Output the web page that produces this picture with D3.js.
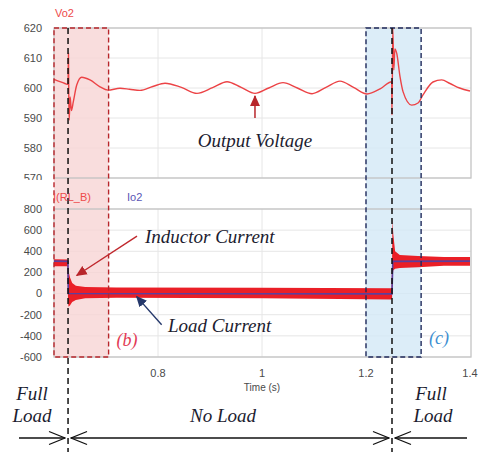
<!DOCTYPE html>
<html>
<head>
<meta charset="utf-8">
<script src="https://cdn.jsdelivr.net/npm/d3@7"></script>
<style>
  body { margin: 0; background: #fff; }
  svg { display: block; }
</style>
</head>
<body>
<div id="chart"></div>
<script>
/* Data. */
const voltTime = [0.600, 0.610, 0.621, 0.627, 0.6278, 0.6285, 0.6292, 0.631, 0.6335, 0.6371, 0.6437, 0.6533, 0.6692, 0.6885, 0.7038, 0.7269, 0.745, 0.7654, 0.79, 0.8135, 0.845, 0.875, 0.905, 0.9327, 0.96, 0.9865, 1.013, 1.0404, 1.068, 1.0962, 1.123, 1.15, 1.176, 1.2019, 1.228, 1.2494, 1.2500, 1.2515, 1.2535, 1.2555, 1.259, 1.2654, 1.2712, 1.2879, 1.300, 1.3096, 1.3288, 1.3456, 1.3615, 1.38, 1.4]
const voltValue = [602.9, 602.2, 601.5, 601.2, 611.5, 596, 589.3, 597, 592.5, 595.4, 601, 603.6, 602.7, 600.4, 599.3, 599.9, 599.6, 599.2, 600.5, 601.6, 600.2, 598.2, 600.1, 602.1, 600.2, 598.2, 600, 601.8, 600, 598.1, 600.2, 602.3, 600.2, 598, 599.8, 602.1, 591, 620, 606, 613, 611.6, 603.8, 598.8, 594.3, 595, 597.7, 602, 602.7, 601.5, 600, 599]

/* Inductor current: ripple band, upper and lower edge. */
const indTime = [0.600, 0.626, 0.627, 0.628, 0.631, 0.635, 0.642, 0.66, 0.72, 1.0, 1.249, 1.2502, 1.2508, 1.2525, 1.256, 1.265, 1.30, 1.35, 1.4]
const indUpper = [325, 322, 300, 210, 150, 100, 75, 62, 58, 55, 50, 300, 711, 560, 400, 365, 355, 345, 345]
const indLower = [258, 258, -80, -125, -110, -80, -60, -45, -40, -45, -55, -40, 150, 220, 235, 242, 250, 262, 262]

/* Load current. */
const loadTime = [0.600, 0.6268, 0.6275, 1.250, 1.2515, 1.4]
const loadValue = [307, 305, 0, -3, 305, 307]

const voltTicks = [570, 580, 590, 600, 610, 620]
const currTicks = [-600, -400, -200, 0, 200, 400, 600, 800]
const timeTicks = [0.8, 1, 1.2, 1.4]
const stepTimes = [0.627, 1.25]
const windowB = [0.6, 0.705]
const windowC = [1.2, 1.306]

/* Svg. */
const width = 484
const height = 452
const svg = d3.select("#chart")
  .append("svg")
  .attr("width", width)
  .attr("height", height)

/* Scales. */
const x = d3.scaleLinear().domain([0.6, 1.4]).range([54, 470])
const yV = d3.scaleLinear().domain([570, 620]).range([178, 28])
const yI = d3.scaleLinear().domain([-600, 800]).range([357, 209])
const left = 54
const right = 471

const defs = svg.append("defs")
defs.append("clipPath").attr("id", "topclip")
  .append("rect").attr("x", 0).attr("y", 0).attr("width", width).attr("height", 180)

/* Filled arrow heads. */
const heads = [["head-red", "#b8262b"], ["head-navy", "#25386b"]]
heads.forEach(([id, col]) => {
  defs.append("marker")
    .attr("id", id)
    .attr("viewBox", "0 -5 10 10")
    .attr("refX", 9).attr("refY", 0)
    .attr("markerWidth", 11).attr("markerHeight", 11)
    .attr("markerUnits", "userSpaceOnUse")
    .attr("orient", "auto-start-reverse")
    .append("path")
    .attr("d", "M0,-4.5L10,0L0,4.5Z")
    .attr("fill", col)
})
/* Open chevron heads. */
defs.append("marker")
  .attr("id", "chev")
  .attr("viewBox", "-1 -8 18 16")
  .attr("refX", 16).attr("refY", 0)
  .attr("markerWidth", 18).attr("markerHeight", 16)
  .attr("markerUnits", "userSpaceOnUse")
  .attr("orient", "auto-start-reverse")
  .append("path")
  .attr("d", "M0,-6.5L16,0L0,6.5")
  .attr("fill", "none")
  .attr("stroke", "#111")
  .attr("stroke-width", 1.3)

/* Gridlines. */
const grid = svg.append("g").attr("stroke", "#e6e6e6").attr("stroke-width", 1)
grid.selectAll(".gv").data(voltTicks).enter().append("line")
  .attr("x1", left).attr("x2", right)
  .attr("y1", d => yV(d)).attr("y2", d => yV(d))
grid.selectAll(".gi").data(currTicks).enter().append("line")
  .attr("x1", left).attr("x2", right)
  .attr("y1", d => yI(d)).attr("y2", d => yI(d))
grid.selectAll(".gt").data(timeTicks.slice(0, 3)).enter().append("g")
  .each(function (d) {
    d3.select(this).append("line")
      .attr("x1", x(d)).attr("x2", x(d)).attr("y1", yV(620)).attr("y2", yV(570))
    d3.select(this).append("line")
      .attr("x1", x(d)).attr("x2", x(d)).attr("y1", yI(800)).attr("y2", yI(-600))
  })

/* Window fills. */
svg.append("rect")
  .attr("x", x(windowB[0])).attr("y", yV(620))
  .attr("width", x(windowB[1]) - x(windowB[0])).attr("height", yI(-600) - yV(620))
  .attr("fill", "#f8d4d4").attr("opacity", 0.8)
svg.append("rect")
  .attr("x", x(windowC[0])).attr("y", yV(620))
  .attr("width", x(windowC[1]) - x(windowC[0])).attr("height", yI(-600) - yV(620))
  .attr("fill", "#d3e8f6").attr("opacity", 0.8)

/* Frames. */
svg.append("rect").attr("x", left).attr("y", yV(620)).attr("width", right - left).attr("height", yV(570) - yV(620))
  .attr("fill", "none").attr("stroke", "#c4c4c4").attr("stroke-width", 1.3)
svg.append("rect").attr("x", left).attr("y", yI(800)).attr("width", right - left).attr("height", yI(-600) - yI(800))
  .attr("fill", "none").attr("stroke", "#c4c4c4").attr("stroke-width", 1.3)

/* Output voltage. */
const voltData = voltTime.map((t, i) => [t, voltValue[i]])
svg.append("path")
  .datum(voltData)
  .attr("fill", "none")
  .attr("stroke", "#ec4346")
  .attr("stroke-width", 1.4)
  .attr("d", d3.line().x(d => x(d[0])).y(d => yV(d[1])).curve(d3.curveMonotoneX))

/* Inductor current band. */
const indData = indTime.map((t, i) => ({ t, hi: indUpper[i], lo: indLower[i] }))
svg.append("path")
  .datum(indData)
  .attr("fill", "#ea1f27")
  .attr("d", d3.area().x(d => x(d.t)).y0(d => yI(d.lo)).y1(d => yI(d.hi)))

/* Load current. */
const loadData = loadTime.map((t, i) => [t, loadValue[i]])
svg.append("path")
  .datum(loadData)
  .attr("fill", "none")
  .attr("stroke", "#5b3f9e")
  .attr("stroke-width", 1.6)
  .attr("d", d3.line().x(d => x(d[0])).y(d => yI(d[1])))

/* Window borders. */
svg.append("rect")
  .attr("x", x(windowB[0])).attr("y", yV(620))
  .attr("width", x(windowB[1]) - x(windowB[0])).attr("height", yI(-600) - yV(620))
  .attr("fill", "none").attr("stroke", "#b8262b").attr("stroke-width", 1.4).attr("stroke-dasharray", "5,3")
svg.append("rect")
  .attr("x", x(windowC[0])).attr("y", yV(620))
  .attr("width", x(windowC[1]) - x(windowC[0])).attr("height", yI(-600) - yV(620))
  .attr("fill", "none").attr("stroke", "#1f2a5c").attr("stroke-width", 1.4).attr("stroke-dasharray", "5,3")

/* Load steps. */
svg.selectAll(".step").data(stepTimes).enter().append("line")
  .attr("x1", d => x(d)).attr("x2", d => x(d))
  .attr("y1", yV(620)).attr("y2", height)
  .attr("stroke", "#111").attr("stroke-width", 1.5).attr("stroke-dasharray", "6,4")

/* Axes labels. */
const tickFont = "'Liberation Sans', Arial, sans-serif"
const topAxis = svg.append("g").attr("clip-path", "url(#topclip)")
topAxis.selectAll("text").data(voltTicks).enter().append("text")
  .attr("x", 42).attr("y", d => yV(d)).attr("dy", "0.35em")
  .attr("text-anchor", "end").attr("font-family", tickFont).attr("font-size", 11).attr("fill", "#4a4a4a")
  .text(d => d)
svg.append("g").selectAll("text").data(currTicks).enter().append("text")
  .attr("x", 42).attr("y", d => yI(d)).attr("dy", "0.35em")
  .attr("text-anchor", "end").attr("font-family", tickFont).attr("font-size", 11).attr("fill", "#4a4a4a")
  .text(d => d)
svg.append("g").selectAll("text").data(timeTicks).enter().append("text")
  .attr("x", d => x(d)).attr("y", 377)
  .attr("text-anchor", "middle").attr("font-family", tickFont).attr("font-size", 11).attr("fill", "#4a4a4a")
  .text(d => d)
svg.append("text").attr("x", x(1)).attr("y", 391)
  .attr("text-anchor", "middle").attr("font-family", tickFont).attr("font-size", 10).attr("fill", "#4a4a4a")
  .text("Time (s)")

/* Series names. */
svg.append("text").attr("x", 55).attr("y", 17).attr("font-family", tickFont).attr("font-size", 11).attr("fill", "#ee4a4a").text("Vo2")
svg.append("text").attr("x", 53).attr("y", 201).attr("font-family", tickFont).attr("font-size", 11).attr("fill", "#ee4a4a").text("I(RL_B)")
svg.append("text").attr("x", 127).attr("y", 201).attr("font-family", tickFont).attr("font-size", 11).attr("fill", "#5a55b5").text("Io2")

/* Annotations. */
const noteFont = "'Liberation Serif', 'Times New Roman', serif"
function note(tx, ty, s, col, anchor, size) {
  svg.append("text").attr("x", tx).attr("y", ty)
    .attr("font-family", noteFont).attr("font-style", "italic").attr("font-size", size || 19)
    .attr("text-anchor", anchor || "start").attr("fill", col).text(s)
}
note(255, 147, "Output Voltage", "#1c1c30", "middle")
note(145, 243, "Inductor Current", "#1c1c30")
note(168, 332, "Load Current", "#1c1c30")
note(127, 346, "(b)", "#e23a55", "middle", 18)
note(439, 344, "(c)", "#3d8fd2", "middle", 18)
note(32, 400, "Full", "#1c1c30", "middle")
note(32, 422, "Load", "#1c1c30", "middle")
note(223, 422, "No Load", "#1c1c30", "middle")
note(431, 400, "Full", "#1c1c30", "middle")
note(433, 422, "Load", "#1c1c30", "middle")

/* Annotation arrows. */
svg.append("line")
  .attr("x1", x(0.9865)).attr("y1", yV(590)).attr("x2", x(0.9865)).attr("y2", yV(597.3))
  .attr("stroke", "#b8262b").attr("stroke-width", 1.5).attr("marker-end", "url(#head-red)")
svg.append("line")
  .attr("x1", x(0.7596)).attr("y1", yI(543)).attr("x2", x(0.6437)).attr("y2", yI(171))
  .attr("stroke", "#c0282d").attr("stroke-width", 1.4).attr("marker-end", "url(#head-red)")
svg.append("line")
  .attr("x1", x(0.807)).attr("y1", yI(-295)).attr("x2", x(0.759)).attr("y2", yI(-29))
  .attr("stroke", "#25386b").attr("stroke-width", 1.4).attr("marker-end", "url(#head-navy)")

/* Load period arrows. */
const ay = 438
svg.append("line").attr("x1", 19).attr("y1", ay).attr("x2", x(stepTimes[0]) - 3).attr("y2", ay)
  .attr("stroke", "#111").attr("stroke-width", 1.3).attr("marker-end", "url(#chev)")
svg.append("line").attr("x1", x(stepTimes[0]) + 3).attr("y1", ay).attr("x2", x(stepTimes[1]) - 3).attr("y2", ay)
  .attr("stroke", "#111").attr("stroke-width", 1.3)
  .attr("marker-start", "url(#chev)").attr("marker-end", "url(#chev)")
svg.append("line").attr("x1", 467).attr("y1", ay).attr("x2", x(stepTimes[1]) + 3).attr("y2", ay)
  .attr("stroke", "#111").attr("stroke-width", 1.3).attr("marker-end", "url(#chev)")
</script>
</body>
</html>
